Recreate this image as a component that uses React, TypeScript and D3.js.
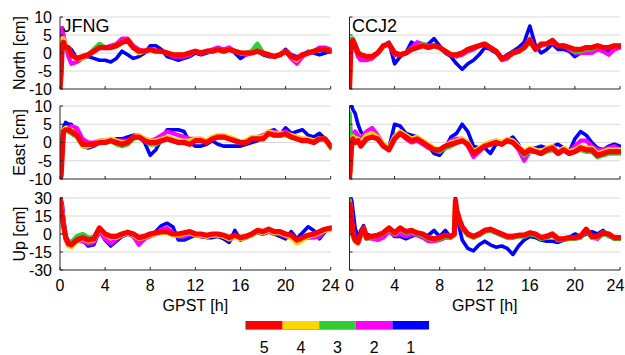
import React from "react";
import * as d3 from "d3";

// ---------- data ----------
const HOURS = [0,0.1,0.2,0.3,0.5,0.75,1,1.5,2,2.5,3,3.5,4,4.5,5,5.5,6,6.5,7,7.5,8,8.5,9,9.5,10,10.5,11,11.5,12,12.5,13,13.5,14,14.5,15,15.5,16,16.5,17,17.5,18,18.5,19,19.5,20,20.5,21,21.5,22,22.5,23,23.5,24];
const HOURS_CCJ2_UP = [0,0.1,0.2,0.3,0.5,0.75,1,1.25,1.5,2,2.5,3,3.5,4,4.5,5,5.5,6,6.5,7,7.5,8,8.5,9,9.3,9.4,9.5,9.75,10,10.5,11,11.5,12,12.5,13,13.5,14,14.5,15,15.5,16,16.5,17,17.5,18,18.5,19,19.5,20,20.5,21,21.5,22,22.5,23,23.5,24];

const X_TICKS = [0, 4, 8, 12, 16, 20, 24];
const NE_TICKS = [-10, -5, 0, 5, 10];
const UP_TICKS = [-30, -15, 0, 15, 30];
const LEVELS = ["1", "2", "3", "4", "5"];
const LEVEL_COLORS = ["#0000ff", "#ff00ff", "#32cd32", "#ffd700", "#ff0000"];
const LEGEND_ORDER = ["5", "4", "3", "2", "1"];

// JFNG North
const JFNG_N_1 = [-10,-4,2,3,2,1.5, 1,-1.5,-1.5,-1,-1.5,-2, -2,-2.5,-1.5,0.5,-0.5,-1.5, -1,0,2,2,1,-1, -1.5,-2,-1.5,-1,0,-0.5, 0,0.5,1,0.5,1.5,0, -1.5,-0.5,0,0.5,-0.5,-1, -1,-0.5,1,-0.5,-1,-1, 0.5,0,-0.5,0,0.5];
const JFNG_N_2 = [-10,-3,7,5,2,-1, -3,-2.5,-1.5,-0.5,0.5,1.5, 1.5,2,2.5,4,4,2, 1,0.5,1,0.5,0.5,0, -1,-1,-1,-0.5,0.5,0, 0.5,1,1.5,1,1.5,0.5, 0,-0.5,0,1,0,-0.5, -1,-0.5,0.5,-1.5,-3,-1, 0,0.5,1.5,1.5,1];
const JFNG_N_3 = [-10,-6,3,3,1.5,1, -0.5,-1.5,-1,-0.5,1,2.5, 1.5,1.5,2,3,3.5,1.5, 0.5,0.5,1,0.5,0.5,0, -0.5,-0.5,-0.5,0,0.5,0, 0.5,0.5,1,0.5,1,0.5, 0,0,0.5,2.5,0,-0.5, -1,-0.5,0.5,-1,-1.5,-0.5, 0,0.5,1,1,0.5];
const JFNG_N_4 = [-10,-4,4,4,2,1.5, -0.5,-1.5,-1.5,-0.5,0.5,1.5, 1.5,1.5,2,3,3.5,1.5, 0,0.5,1,0.5,0.5,0, -0.5,-0.5,-0.5,0,0.5,0, 0.5,0.5,1,0.5,1,0.5, 0,0,0,0.5,0,-0.5, -1,-0.5,0.5,-1,-2,-0.5, 0,0.5,1,1,0.5];
const JFNG_N_5 = [-10,-5,2,3,1.5,1.5, -0.5,-1.5,-1,-0.5,0.5,1.5, 1.5,1.5,2,3,3.5,1.5, 0.5,0.5,1,0.5,0.5,0, -0.5,-0.5,-0.5,0,0.5,0, 0.5,0.5,1,0.5,1,0.5, 0,0,0,0.5,0,-0.5, -1,-0.5,0.5,-1,-1.5,-0.5, 0,0.5,1,1,0.5];

// CCJ2 North
const CCJ2_N_1 = [-10,0,3,3,2,0, -1,-1,-1,0,2,3, -3,-1,0,3,2,2, 2.5,4,2,0,-1,-3, -4.5,-3,-2,-0.5,1.5,1, 0,-1.5,-0.5,0.5,1.5,3, 7.5,2,0,1,2.5,1, 1,0.5,-1,0,1,1, 1.5,0.5,0.5,1,1.5];
const CCJ2_N_2 = [-10,1,3,3,1.5,-1, -2,-2,-1.5,0,2,2.5, -0.5,-0.5,0,1.5,3,2.5, 2,2,1.5,0.5,-0.5,-1, -0.5,0.5,1,2,2.5,1.5, 0.5,-2,-1.5,0,0.5,1.5, 4,1,2,2.5,3,2, 2,1,0,0,0,0, 1,0.5,-0.5,1,1.5];
const CCJ2_N_3 = [-10,2,4,4,2.5,0.5, -0.5,-1,-1,0,2,2.5, 0,-0.5,0,1,1.5,2.5, 1.5,2,1.5,0.5,-0.5,-0.5, 0,1,1.5,2,2.5,1.5, 0.5,-1.5,-1,0,0.5,1.5, 3,1,2.5,2.5,3.5,2, 2,1.5,0.5,0.5,1,1, 2,1.5,1.5,2,2];
const CCJ2_N_4 = [-10,-2,3,3.5,2,0, -0.5,-1,-1,0,2,2.5, 0,-0.5,0,1,1.5,2, 1.5,2,1.5,0.5,-0.5,-0.5, 0,1,1.5,2,2.5,1.5, 0.5,-1.5,-1,0,0.5,1.5, 3.5,1,2.5,2.5,3.5,2, 2,1.5,1,1,1.5,1.5, 2,1.5,1.5,2,2];
const CCJ2_N_5 = [-10,0,3,3.5,2,0, -0.5,-1,-1,0,2,2.5, 0,-0.5,0,1,1.5,2, 1.5,2,1.5,0.5,-0.5,-0.5, 0,1,1.5,2,2.5,1.5, 0.5,-1.5,-1,0,0.5,1.5, 3.5,1,2.5,2.5,3.5,2, 2,1.5,1,1,1.5,1.5, 2,1.5,1.5,2,2];

// JFNG East
const JFNG_E_1 = [1,-9,-2,4,5.5,5, 5,2,-1,-1.5,-1,0, 0.5,0.5,1,1,1.5,2, 2,0,-3.5,-2,1,3.5, 3.5,3.5,3,0,-1,-1, -0.5,0.5,-0.5,-1,-1,-1, -1,-0.5,0,0.5,1.5,3, 3.5,2,4,2.5,3,3.5, 2,1.5,2.5,1,-1];
const JFNG_E_2 = [-10,-5,-3,2,3.5,4, 4.5,4,1,0,0,0.5, 0.5,0.5,0.5,0.5,0.5,1.5, 1.5,1,0.5,1,2,3, 2.5,2,1.5,1,1,1, 0.5,1,1.5,1.5,1,0.5, 0,0,1,1.5,2,3, 3,2.5,3,2,1.5,1, 1,0.5,1,1,-1];
const JFNG_E_3 = [-10,-8,-2,3,3.5,3, 2.5,1.5,-1,-1,-0.5,0, 0,0.5,-0.5,-1,-0.5,1, 1.5,0.5,-0.5,-0.5,0.5,1, 0.5,0,0,0,0.5,0.5, 0.5,1,1.5,1.5,1,0.5, 0,0.5,1,1.5,1.5,2.5, 2,2,2,1.5,1,0.5, 0.5,0,1,1,-1.5];
const JFNG_E_4 = [-10,-8,-1,3.5,4,3.5, 3.5,2,-1,-1,-0.5,0.5, 0.5,1,0.5,0,0,1.5, 2,1,0.5,0.5,1,1.5, 1,0.5,0.5,0.5,1,1, 0.5,1.5,2,2,1.5,1, 0,0.5,1.5,1.5,1.5,3, 2.5,2.5,2.5,2,1.5,1, 1,0.5,1,1,-1];
const JFNG_E_5 = [-10,-9,-3,3,3.5,3.5, 3,2,-0.5,-0.5,-0.5,0, 0,0.5,0,-0.5,0,1.5, 1.5,0.5,0,0,0.5,1, 0.5,0,0,-0.5,0.5,0.5, 0,1,1.5,1.5,1,0.5, 0,0,1,1,1,2.5, 2,2,2.5,1.5,1,0.5, 0.5,0,1,1,-1];

// CCJ2 East
const CCJ2_E_1 = [10,10,10,9,8,5, 3,1,1.5,1,-0.5,-1.5, 5,4.5,2.5,2,1.5,0.5, -1,-3,-3.5,-1.5,1.5,2.5, 5,3,-1,-1.5,-1.5,-3, -0.5,0,0.5,1.5,-0.5,-4.5, -2,-1.5,-1,-1.5,-1,-0.5, -1.5,-2.5,1,3,2,0, -1.5,-2,-1,-0.5,-1];
const CCJ2_E_2 = [7,3,2,2,3,2, 1,3,4,2,-0.5,-1.5, 2,2.5,1,0,0.5,-0.5, -1.5,-2,-2.5,-1,0.5,1, 1,-1,-4,-2.5,-1,0, 0.5,0,0.5,0,-2,-5, -2.5,-2.5,-2.5,-1.5,-1,-2.5, -1.5,-2.5,-1,0.5,0.5,-1, -2,-2,-1.5,-1,-2];
const CCJ2_E_3 = [8,-3,1,2,1,1, -0.5,1.5,2,1.5,-0.5,-1.5, 1.5,3,2,1,1.5,0, -1,-2,-2.5,-1.5,-1,0, 1,0,-2.5,-2,-0.5,0, 0.5,0,0.5,0,-1.5,-3.5, -2.5,-2.5,-3,-2.5,-2,-3, -2,-3,-2.5,-2,-2.5,-2.5, -4,-3.5,-3,-3,-3];
const CCJ2_E_4 = [-5,-8,-1,1.5,1,1, 0,2,2.5,1.5,-0.5,-1.5, 1.5,3,2,1,1.5,0.5, -0.5,-1.5,-2,-1,0,0.5, 1,0,-2.5,-1.5,-0.5,0, 0.5,0,1,0.5,-1,-2.5, -1.5,-2,-2.5,-1.5,-1,-2.5, -1.5,-2.5,-2,-1,-1.5,-1.5, -3,-2.5,-2,-2,-2];
const CCJ2_E_5 = [-10,-5,0,1,0,0.5, -1,1,1.5,1,-1,-2, 1,2.5,1.5,0.5,1,0, -1,-2,-2,-1,-0.5,0, 0.5,-0.5,-3,-2,-1,-0.5, 0,-0.5,0.5,0,-1.5,-3, -2,-2.5,-3,-2,-1.5,-3, -2,-3,-2.5,-1.5,-2,-2, -3.5,-3,-2.5,-2.5,-2.5];

// JFNG Up
const JFNG_U_1 = [30,28,25,15,0,-7, -9,-5,-5,-10,-9,3, -5,-10,-6,-2,0,-2, -8,-4,-1,2,7,9, 6,-5,-5,-3,-1,-2, -3,-3,-2,-4,-7,3, -5,-3,0,1,0,2, 0,-2,-4,2,-4,1, 6,3,-4,2,5];
const JFNG_U_2 = [30,28,22,12,-5,-10, -10,-6,-6,-8,-7,2, -4,-8,-4,-1,1,-2, -9,-4,-2,0,4,5, 1,-2,-2,0,-1,-2, -2,-1,-1,-2,-5,-2, -4,-3,-1,2,0,2, 0,0,-2,-3,-6,-3, -3,-3,-2,3,4];
const JFNG_U_3 = [30,22,16,8,-2,-6, -7,-2,0,-3,-3,5, 0,-2,-2,0,1,0, -3,-2,0,1,2,2, 0,-1,0,1,-1,-1, -2,-1,-1,-2,-4,-2, -4,-3,-1,2,1,3, 1,1,-1,-2,-6,-4, -2,-1,1,3,4];
const JFNG_U_4 = [30,22,17,9,-4,-10, -11,-6,-4,-6,-5,4, -1,-3,-3,-1,1,-1, -4,-3,-1,0,1,1, -1,-1,0,1,-1,-1, -2,-1,-1,-2,-4,-2, -4,-3,-1,2,1,3, 1,1,-1,-3,-8,-5, -2,-1,1,3,4];
const JFNG_U_5 = [30,20,15,8,-3,-8, -9,-5,-3,-5,-4,5, 0,-2,-2,0,1.5,0, -3,-2,0,1,2,2, 0,0,1,2,0,0, -1,0,0,-1,-3,-1, -3,-2,0,3,2,4, 2,2,0,-1,-5,-3, -1,0,2,4,5];

// CCJ2 Up
const CCJ2_U_1 = [30,30,28,20,5,-3, 3,7,0,-2,-1,1,3, -2,-2,-4,-2,0,-1, -1,3,-2,3,-3, 0,30,20,5, -5,-12,-14,-9,-6,-9, -11,-10,-12,-17,-10,-5, -2,-3,-5,-6,-6,-7, -5,-3,0,-2,0,2, 0,3,-2,-4,-3];
const CCJ2_U_2 = [30,25,15,5,-5,-7, 0,5,-3,-4,-5,-3,2, -1,0,-2,0,-1,-3, -6,-6,-5,-3,-3, 0,28,20,12, 6,0,-2,0,3,3, 1,-1,-3,-3,-1,-1, 0,-1,-3,-3,-1,-5, -4,-4,-4,-2,3,-3, -4,0,-1,-4,-3];
const CCJ2_U_3 = [28,18,8,-2,-6,-8, -1,4,-4,-3,-1,0,4, 0,4,1,2,0,-1, -4,-5,-4,-2,-3, -1,27,19,11, 5,-1,-3,-1,2,3, 1,-1,-3,-3,-2,-2, 0,-1,-4,-3,-1,-5, -5,-4,-4,-3,3,-3, -3,0,-1,-4,-4];
const CCJ2_U_4 = [26,19,9,-1,-5,-8, -1,5,-3,-2,-1,1,5, 1,5,2,3,1,0, -3,-4,-3,-1,-2, 0,28,20,12, 6,0,-2,0,3,4, 2,0,-2,-2,-1,-1, 1,0,-3,-2,0,-4, -4,-3,-3,-2,4,-2, -2,1,0,-3,-3];
const CCJ2_U_5 = [25,20,10,0,-5,-7, 0,5,-3,-2,-1,1,5, 1,5,2,3,1,0, -3,-4,-3,-1,-2, 0,28,20,12, 6,0,-2,0,3,4, 2,0,-2,-2,-1,-1, 1,0,-3,-2,0,-4, -4,-3,-3,-2,4,-2, -2,1,0,-3,-3];

// ---------- layout ----------
const W = 625, H = 355;
const COLS = [
  { x0: 60, x1: 330.7, station: "JFNG" },
  { x0: 349.5, x1: 620, station: "CCJ2" },
];
const ROWS = [
  { top: 17, bottom: 89, title: "North [cm]", ticks: NE_TICKS },
  { top: 106, bottom: 179, title: "East [cm]", ticks: NE_TICKS },
  { top: 198, bottom: 270, title: "Up [cm]", ticks: UP_TICKS },
];
const PANEL_DATA = [
  [{ hours: HOURS, series: [JFNG_N_1, JFNG_N_2, JFNG_N_3, JFNG_N_4, JFNG_N_5] },
   { hours: HOURS, series: [CCJ2_N_1, CCJ2_N_2, CCJ2_N_3, CCJ2_N_4, CCJ2_N_5] }],
  [{ hours: HOURS, series: [JFNG_E_1, JFNG_E_2, JFNG_E_3, JFNG_E_4, JFNG_E_5] },
   { hours: HOURS, series: [CCJ2_E_1, CCJ2_E_2, CCJ2_E_3, CCJ2_E_4, CCJ2_E_5] }],
  [{ hours: HOURS, series: [JFNG_U_1, JFNG_U_2, JFNG_U_3, JFNG_U_4, JFNG_U_5] },
   { hours: HOURS_CCJ2_UP, series: [CCJ2_U_1, CCJ2_U_2, CCJ2_U_3, CCJ2_U_4, CCJ2_U_5] }],
];
const STROKES = [3.6, 4.2, 4.6, 4.6, 5.2];
const FONT = "Arial, 'Liberation Sans', sans-serif";
const AXIS = "#262626";
const GRID = "#d9d9d9";

function Panel({ r, c }: { r: number; c: number }) {
  const col = COLS[c];
  const row = ROWS[r];
  const pd = PANEL_DATA[r][c];
  const ticks = row.ticks;
  const x = d3.scaleLinear().domain([0, 24]).range([col.x0, col.x1]);
  const y = d3.scaleLinear().domain([ticks[0], ticks[ticks.length - 1]]).range([row.bottom, row.top]);
  const clipId = `clip-${r}-${c}`;
  const line = d3
    .line<number>()
    .x((_, i) => x(pd.hours[i]))
    .y((v) => y(v));
  return (
    <g>
      <defs>
        <clipPath id={clipId}>
          <rect x={col.x0} y={row.top - 1} width={col.x1 - col.x0 + 1} height={row.bottom - row.top + 1} />
        </clipPath>
      </defs>
      {ticks.slice(1).map((t) => (
        <line key={t} x1={col.x0} x2={col.x1} y1={y(t)} y2={y(t)} stroke={GRID} strokeWidth={1} />
      ))}
      <g clipPath={`url(#${clipId})`}>
        {pd.series.map((s, i) => (
          <path
            key={i}
            d={line(s) || ""}
            fill="none"
            stroke={LEVEL_COLORS[i]}
            strokeWidth={STROKES[i]}
            strokeLinejoin="round"
            strokeLinecap="round"
          />
        ))}
      </g>
      <line x1={col.x0} x2={col.x0} y1={row.top} y2={row.bottom} stroke={AXIS} strokeWidth={1} />
      <line x1={col.x0} x2={col.x1} y1={row.bottom} y2={row.bottom} stroke={AXIS} strokeWidth={1} />
      {ticks.map((t) => (
        <line key={"yt" + t} x1={col.x0} x2={col.x0 + 3} y1={y(t)} y2={y(t)} stroke={AXIS} strokeWidth={1} />
      ))}
      {X_TICKS.map((t) => (
        <line key={"xt" + t} x1={x(t)} x2={x(t)} y1={row.bottom} y2={row.bottom - 3} stroke={AXIS} strokeWidth={1} />
      ))}
      {c === 0 &&
        ticks.map((t) => (
          <text key={"yl" + t} x={52} y={y(t)} dy="0.36em" textAnchor="end" fontSize={16} fontFamily={FONT} fill="#000">
            {t}
          </text>
        ))}
      {c === 0 && (
        <text
          transform={`translate(25,${(row.top + row.bottom) / 2}) rotate(-90)`}
          textAnchor="middle"
          fontSize={16}
          fontFamily={FONT}
          fill="#000"
        >
          {row.title}
        </text>
      )}
      {r === 2 &&
        X_TICKS.map((t) => (
          <text
            key={"xl" + t}
            x={Math.min(x(t), W - 9.5)}
            y={291}
            textAnchor="middle"
            fontSize={16}
            fontFamily={FONT}
            fill="#000"
          >
            {t}
          </text>
        ))}
      {r === 2 && (
        <text x={(col.x0 + col.x1) / 2} y={311} textAnchor="middle" fontSize={16} fontFamily={FONT} fill="#000">
          GPST [h]
        </text>
      )}
      {r === 0 && (
        <text x={col.x0 + 2.5} y={32} fontSize={18} fontFamily={FONT} fill="#000">
          {col.station}
        </text>
      )}
    </g>
  );
}

function Legend() {
  const lx = d3.scaleBand<string>().domain(LEGEND_ORDER).range([246, 429]);
  return (
    <g>
      {LEGEND_ORDER.map((lv) => (
        <rect
          key={lv}
          x={lx(lv)}
          y={321}
          width={lx.bandwidth()}
          height={8.5}
          fill={LEVEL_COLORS[LEVELS.indexOf(lv)]}
        />
      ))}
      <line x1={246} x2={246} y1={321} y2={329.5} stroke="#444" strokeWidth={1} />
      <line x1={246} x2={429} y1={329.5} y2={329.5} stroke="#888" strokeWidth={0.6} />
      {LEGEND_ORDER.map((lv) => (
        <text
          key={"t" + lv}
          x={(lx(lv) || 0) + lx.bandwidth() / 2}
          y={353}
          textAnchor="middle"
          fontSize={16}
          fontFamily={FONT}
          fill="#000"
        >
          {lv}
        </text>
      ))}
    </g>
  );
}

export default function App() {
  return (
    <svg
      width={W}
      height={H}
      viewBox={`0 0 ${W} ${H}`}
      style={{ position: "absolute", left: 0, top: 0, background: "#fff" }}
    >
      <rect width={W} height={H} fill="#fff" />
      {ROWS.map((_, r) => COLS.map((__, c) => <Panel key={`${r}-${c}`} r={r} c={c} />))}
      <Legend />
    </svg>
  );
}
